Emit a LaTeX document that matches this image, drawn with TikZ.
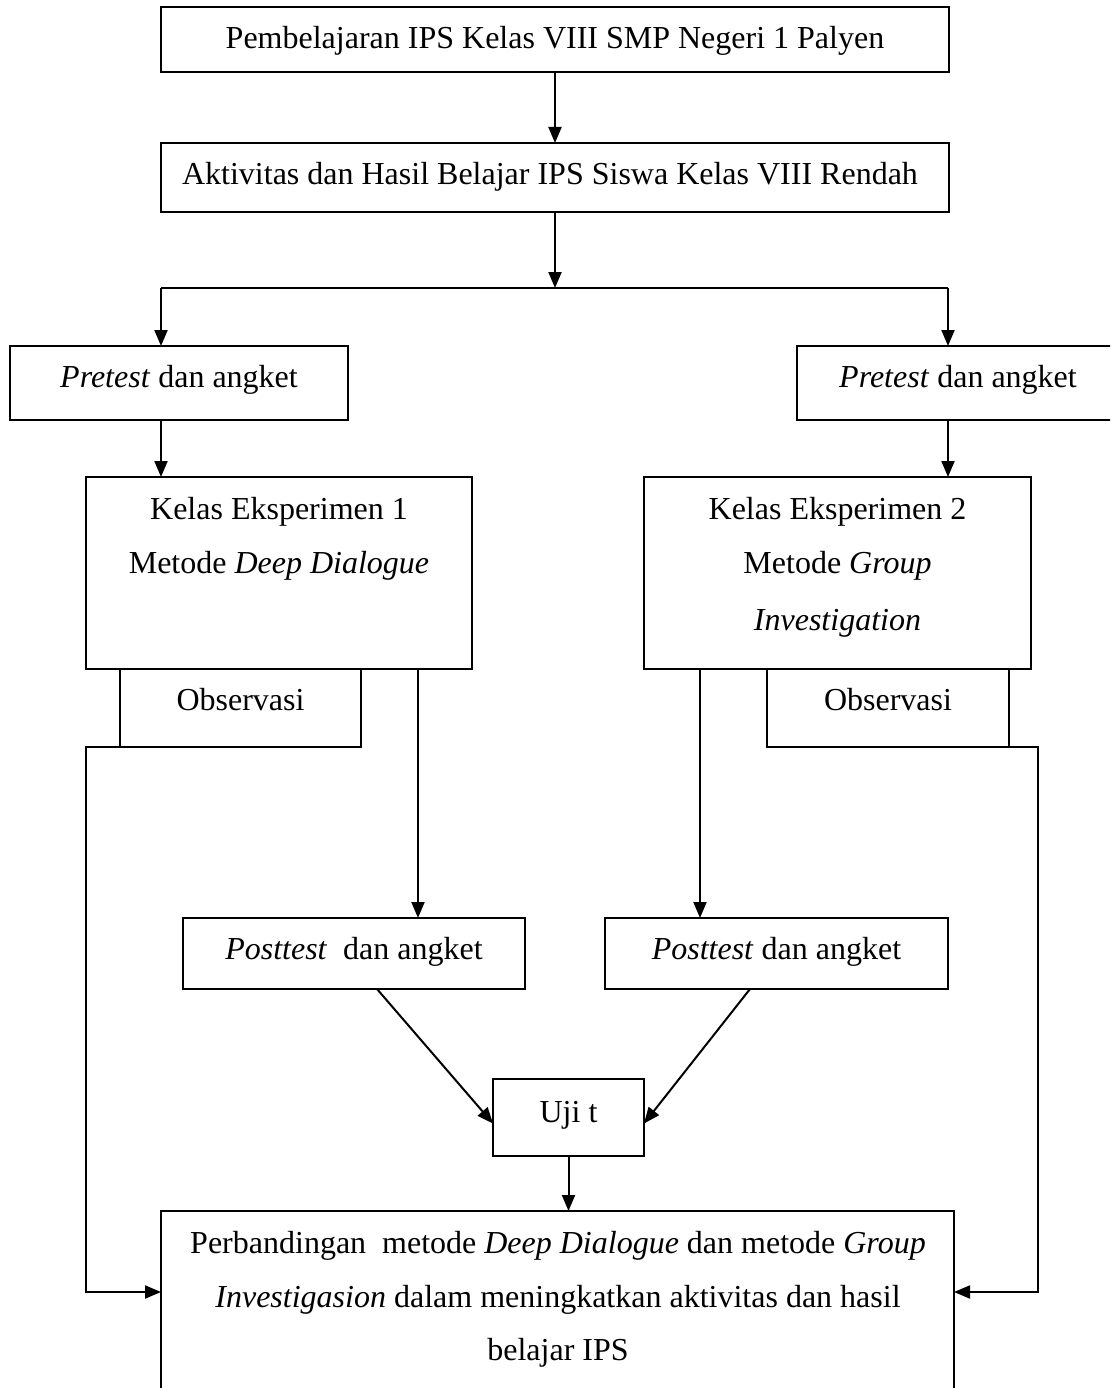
\documentclass[tikz,border=0pt]{standalone}
\usepackage{fontspec}
\setmainfont{Liberation Serif}
\usetikzlibrary{arrows.meta}
\begin{document}
\begin{tikzpicture}[x=1pt,y=-1pt,line width=2pt,
  box/.style={draw,line width=2pt,inner sep=0pt,outer sep=0pt},
  txt/.style={anchor=base,inner sep=0pt,font=\fontsize{32}{38}\selectfont},
  arr/.style={-{Triangle[length=16pt,width=13pt]},line width=2pt}]
\path[use as bounding box,clip] (0,0) rectangle (1110,1388);
% boxes
\node[box,minimum width=788pt,minimum height=65pt] (b1) at (555,39.5) {};
\node[box,minimum width=788pt,minimum height=69pt] (b2) at (555,177.5) {};
\node[box,minimum width=338pt,minimum height=74pt] (pl) at (179,383) {};
\node[box,minimum width=323pt,minimum height=74pt] (pr) at (958.5,383) {};
\node[box,minimum width=386pt,minimum height=192pt] (k1) at (279,573) {};
\node[box,minimum width=387pt,minimum height=192pt] (k2) at (837.5,573) {};
\node[box,minimum width=241pt,minimum height=78pt] (o1) at (240.5,708) {};
\node[box,minimum width=242pt,minimum height=78pt] (o2) at (888,708) {};
\node[box,minimum width=342pt,minimum height=71pt] (q1) at (354,953.5) {};
\node[box,minimum width=343pt,minimum height=71pt] (q2) at (776.5,953.5) {};
\node[box,minimum width=151pt,minimum height=77pt] (u) at (568.5,1117.5) {};
\node[box,minimum width=793pt,minimum height=209pt] (f) at (557.5,1315.5) {};
% texts
\node[txt] (t1) at (555,48.5) {Pembelajaran IPS Kelas VIII SMP Negeri 1 Palyen};
\node[txt] (t2) at (550,185) {Aktivitas dan Hasil Belajar IPS Siswa Kelas VIII Rendah};
\node[txt] (tpl) at (179,387) {\textit{Pretest} dan angket};
\node[txt] (tpr) at (958,387) {\textit{Pretest} dan angket};
\node[txt] (tk1a) at (279,519) {Kelas Eksperimen 1};
\node[txt] (tk1b) at (279,573) {Metode \textit{Deep Dialogue}};
\node[txt] (tk2a) at (837.5,519) {Kelas Eksperimen 2};
\node[txt] (tk2b) at (837.5,573) {Metode \textit{Group}};
\node[txt] (tk2c) at (837.5,630) {\textit{Investigation}};
\node[txt] (to1) at (240.5,710) {Observasi};
\node[txt] (to2) at (888,710) {Observasi};
\node[txt] (tq1) at (354,959) {\textit{Posttest}\ \ dan angket};
\node[txt] (tq2) at (776.5,959) {\textit{Posttest} dan angket};
\node[txt] (tu) at (568.5,1122) {Uji t};
\node[txt] (tf1) at (558,1253) {Perbandingan\ \ metode \textit{Deep Dialogue} dan metode \textit{Group}};
\node[txt] (tf2) at (558,1307) {\textit{Investigasion} dalam meningkatkan aktivitas dan hasil};
\node[txt] (tf3) at (558,1360) {belajar IPS};
% helper coordinates
\coordinate (j) at (555,288);
\coordinate (jl) at (161,288);
\coordinate (jr) at (948,288);
\coordinate (a1) at (418,0);
\coordinate (a2) at (700,0);
\coordinate (cl1) at (86,747);
\coordinate (cl2) at (86,1292);
\coordinate (fl) at (161,1292);
\coordinate (cr1) at (1038,747);
\coordinate (cr2) at (1038,1292);
\coordinate (fr) at (954,1292);
% connectors
\draw[arr] (b1.south) -- (b2.north);
\draw[arr] (b2.south) -- (j);
\draw (jl) -- (jr);
\draw[arr] (jl) -- (jl |- pl.north);
\draw[arr] (jr) -- (jr |- pr.north);
\draw[arr] (jl |- pl.south) -- (jl |- k1.north);
\draw[arr] (jr |- pr.south) -- (jr |- k2.north);
\draw[arr] (a1 |- k1.south) -- (a1 |- q1.north);
\draw[arr] (a2 |- k2.south) -- (a2 |- q2.north);
\draw[arr] ([xshift=23pt]q1.south) -- ([yshift=-6pt]u.west);
\draw[arr] ([xshift=-26.5pt]q2.south) -- ([yshift=-6pt]u.east);
\draw[arr] (u.south) -- (u.south |- f.north);
\draw[arr] (o1.south west) -- (cl1) -- (cl2) -- (fl);
\draw[arr] (o2.south east) -- (cr1) -- (cr2) -- (fr);
\end{tikzpicture}
\end{document}
